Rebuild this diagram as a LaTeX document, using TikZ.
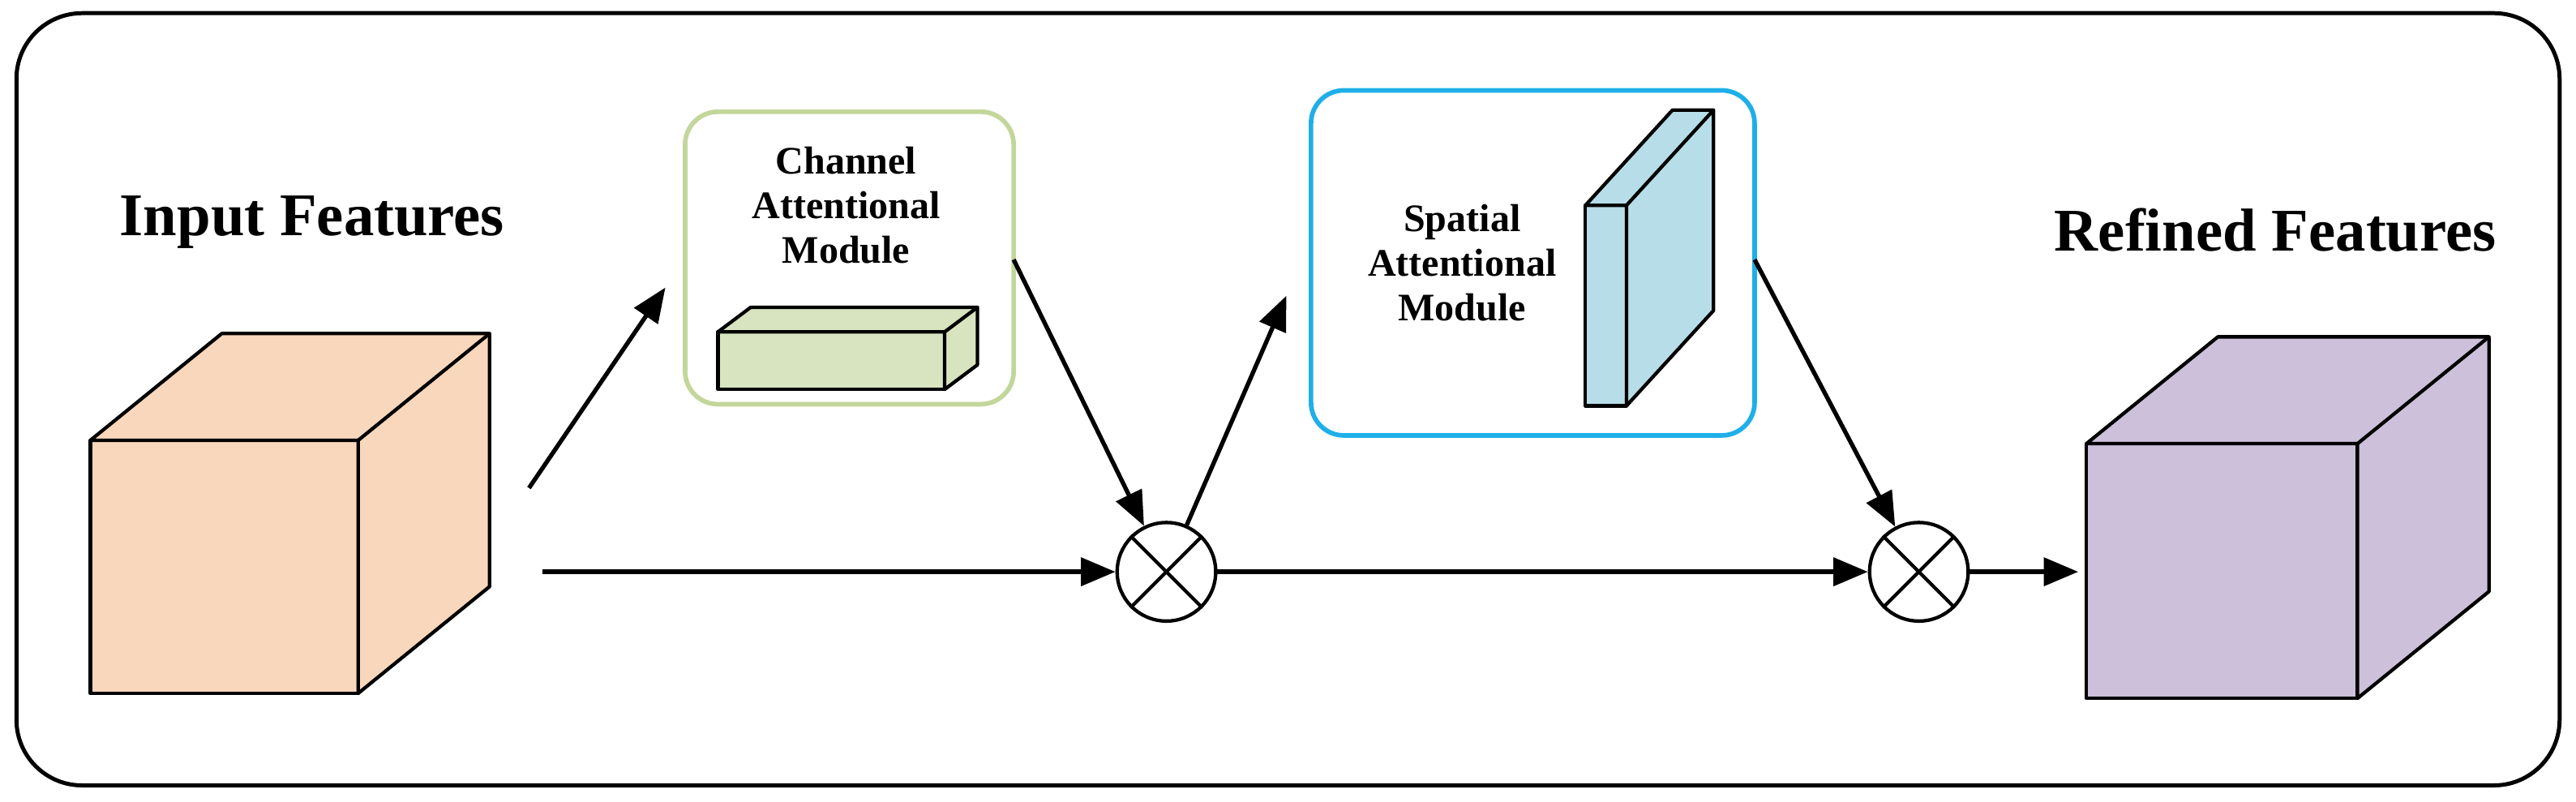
\documentclass[tikz,border=0pt]{standalone}
\usepackage{fontspec}
\usetikzlibrary{arrows.meta}
\setmainfont{Liberation Serif}
\definecolor{peach}{HTML}{F9D7BC}
\definecolor{lilac}{HTML}{CCC0DA}
\definecolor{sage}{HTML}{D8E4BF}
\definecolor{sageline}{HTML}{C3D69B}
\definecolor{skyfill}{HTML}{B7DDE8}
\definecolor{skyline}{HTML}{1FAFE8}

% cuboid: front face lower-left, width, height, depth offset x, y, fill
\newcommand{\cuboid}[7]{%
  \draw[line width=1.2pt,fill=#7,line join=round] (#1,#2) rectangle ++(#3,#4);
  \draw[line width=1.2pt,fill=#7,line join=round] (#1,#2+#4) -- ++(#5,#6) -- ++(#3,0) -- ++(0,-#4) -- ++(-#5,-#6) -- ++(0,#4) -- cycle;
  \draw[line width=1.2pt] (#1+#3,#2+#4) -- ++(#5,#6);
}

\begin{document}
\begin{tikzpicture}[x=0.02cm,y=-0.02cm,>={Triangle[length=0.42cm,width=0.34cm]}]
    \tikzstyle{flow}=[->,line width=1.5pt]
    \tikzstyle{big}=[font=\fontsize{21}{25}\selectfont\bfseries]
    \tikzstyle{small}=[font=\fontsize{13.5}{15.5}\selectfont\bfseries,align=center]
    \tikzstyle{mult}=[circle,draw,line width=1.2pt,minimum size=1.2cm,inner sep=0pt]
    \tikzstyle{module}=[draw,rounded corners=0.4cm,line width=1.6pt]

    \useasboundingbox (0,0) rectangle (1568,488);
    \draw[line width=1.4pt,rounded corners=0.8cm] (10,8) rectangle (1558,478);

    % Input and output cubes
    \cuboid{55}{422}{163}{-154}{80}{-65}{peach}
    \cuboid{1270}{425}{165}{-155}{80}{-65}{lilac}
    \node[big] (inlbl) at (190,135) {Input Features};
    \node[big] (outlbl) at (1385,140) {Refined Features};

    % Modules
    \draw[module,draw=sageline] (417,68) rectangle (617,246);
    \node[small] (cam) at (515,125) {Channel\\Attentional\\Module};
    \cuboid{437}{237}{138}{-35}{20}{-15}{sage}
    \draw[module,draw=skyline] (798,55) rectangle (1068,265);
    \node[small] (sam) at (890,160) {Spatial\\Attentional\\Module};
    \cuboid{965}{247}{25}{-122}{53}{-58}{skyfill}

    % Multiplications
    \node[mult] (m1) at (710,348) {};
    \node[mult] (m2) at (1168,348) {};
    \foreach \m in {m1,m2} {
        \draw[line width=1.2pt] (\m.45) -- (\m.225);
        \draw[line width=1.2pt] (\m.135) -- (\m.315);
    }

    % Connector ends
    \coordinate (in-up) at (322,297);
    \coordinate (in-right) at (330,348);
    \coordinate (cam-in) at (405,175);
    \coordinate (cam-out) at (617,158);
    \coordinate (sam-in) at (783,180);
    \coordinate (sam-out) at (1068,158);
    \coordinate (out-in) at (1265,348);

    % Connectors
    \draw[flow] (in-up) -- (cam-in);
    \draw[flow] (in-right) -- (m1);
    \draw[flow] (cam-out) -- (m1);
    \draw[flow] (m1) -- (sam-in);
    \draw[flow] (m1) -- (m2);
    \draw[flow] (sam-out) -- (m2);
    \draw[flow] (m2) -- (out-in);
\end{tikzpicture}
\end{document}
